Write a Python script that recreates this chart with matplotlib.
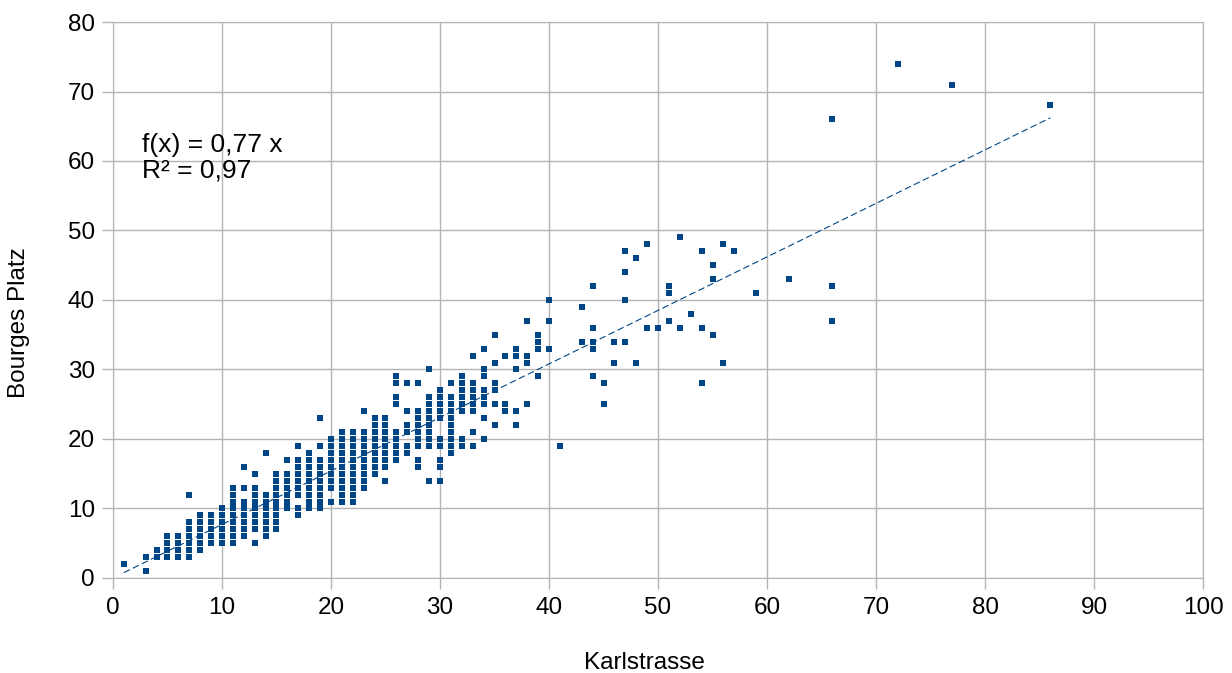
import matplotlib.pyplot as plt
import numpy as np

plt.rcParams['font.family'] = ['Liberation Sans', 'DejaVu Sans']

# Karlstrasse value -> list of Bourges Platz values seen in that column
karlstrasse = [1, 3, 4, 5, 6, 7, 8, 9, 10, 11, 12, 13, 14, 15, 16, 17, 18, 19, 20,
               21, 22, 23, 24, 25, 26, 27, 28, 29, 30, 31, 32, 33, 34, 35, 36, 37,
               38, 39, 40, 41, 43, 44, 45, 46, 47, 48, 49, 50, 51, 52, 53, 54, 55,
               56, 57, 59, 62, 66, 72, 77, 86]
bourges_platz = [
    [2],
    [1, 3],
    [3, 4],
    [3, 4, 5, 6],
    [3, 4, 5, 6],
    [3, 4, 5, 6, 7, 8, 12],
    [4, 5, 6, 7, 8, 9],
    [5, 6, 7, 8, 9],
    [5, 6, 7, 8, 9, 10],
    [5, 6, 7, 8, 9, 10, 11, 12, 13],
    [6, 7, 8, 9, 10, 11, 13, 16],
    [5, 7, 8, 9, 10, 11, 12, 13, 15],
    [6, 7, 8, 9, 10, 11, 12, 18],
    [7, 8, 9, 10, 11, 12, 13, 14, 15],
    [10, 11, 12, 13, 14, 15, 17],
    [9, 10, 12, 13, 14, 15, 16, 17, 19],
    [10, 11, 12, 13, 14, 15, 16, 17, 18],
    [10, 11, 12, 13, 14, 15, 16, 17, 19, 23],
    [11, 13, 14, 15, 16, 17, 18, 19, 20],
    [11, 12, 13, 14, 15, 16, 17, 18, 19, 20, 21],
    [11, 12, 13, 14, 15, 16, 17, 18, 19, 20, 21],
    [13, 14, 15, 16, 17, 18, 19, 20, 21, 24],
    [15, 16, 17, 18, 19, 20, 21, 22, 23],
    [14, 16, 17, 18, 19, 20, 21, 22, 23],
    [17, 18, 19, 20, 21, 25, 26, 28, 29],
    [18, 19, 21, 22, 24, 28],
    [16, 17, 19, 20, 21, 22, 23, 24, 28],
    [14, 19, 20, 21, 22, 23, 24, 25, 26, 30],
    [14, 16, 17, 19, 20, 23, 24, 25, 26, 27],
    [18, 19, 20, 21, 22, 23, 24, 25, 26, 28],
    [19, 20, 24, 25, 26, 27, 28, 29],
    [19, 21, 24, 25, 26, 27, 28, 32],
    [20, 23, 25, 26, 27, 29, 30, 33],
    [22, 25, 27, 28, 31, 35],
    [24, 25, 32],
    [22, 24, 30, 32, 33],
    [25, 31, 32, 37],
    [29, 33, 34, 35],
    [33, 37, 40],
    [19],
    [34, 39],
    [29, 33, 34, 36, 42],
    [25, 28],
    [31, 34],
    [34, 40, 44, 47],
    [31, 46],
    [36, 48],
    [36],
    [37, 41, 42],
    [36, 49],
    [38],
    [28, 36, 47],
    [35, 43, 45],
    [31, 48],
    [47],
    [41],
    [43],
    [37, 42, 66],
    [74],
    [71],
    [68],
]
slope = 0.77
r_squared = 0.97

xs = np.concatenate([[k] * len(v) for k, v in zip(karlstrasse, bourges_platz)])
ys = np.concatenate(bourges_platz)

color = '#004586'
grid_color = '#b3b3b3'

fig = plt.figure(figsize=(12.32, 6.73), dpi=100)
ax = fig.add_axes([0.0917, 0.1412, 0.8848, 0.8261])

ax.scatter(xs, ys, marker='s', s=13, color=color, linewidths=0, zorder=3)

xt = np.array([min(karlstrasse), max(karlstrasse)])
ax.plot(xt, slope * xt, linestyle=(0, (6, 3)), color=color, linewidth=0.8, zorder=2)

ax.set_xlim(0, 100)
ax.set_ylim(0, 80)
ax.set_xticks(range(0, 101, 10))
ax.set_yticks(range(0, 81, 10))
ax.grid(True, color=grid_color, linewidth=1)
ax.set_axisbelow(True)
for s in ax.spines.values():
    s.set_color(grid_color)
ax.tick_params(colors=grid_color, labelcolor='black', labelsize=17.5, length=8, width=1)
ax.tick_params(axis='x', pad=6)
ax.tick_params(axis='y', pad=5)

ax.set_xlabel('Karlstrasse', fontsize=17.5)
ax.set_ylabel('Bourges Platz', fontsize=17.5)
ax.xaxis.set_label_coords(0.488, -0.133)
ax.yaxis.set_label_coords(-0.076, 0.46)

ax.text(2.7, 60.5, 'f(x) = 0,77 x\nR² = 0,97', fontsize=19, va='center', ha='left',
        linespacing=1.1)

fig.savefig('out.png', dpi=100)
